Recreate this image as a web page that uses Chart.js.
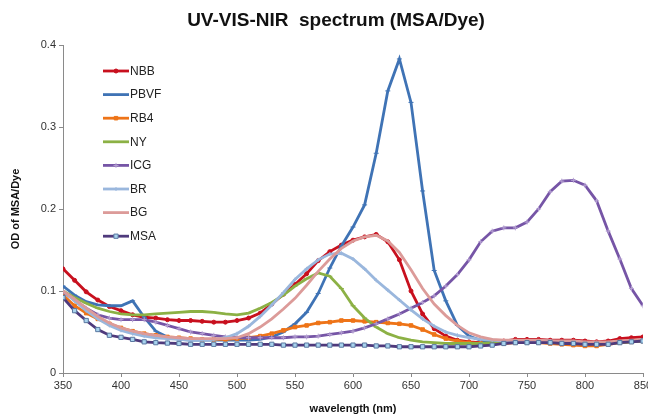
<!DOCTYPE html>
<html>
<head>
<meta charset="utf-8">
<script src="https://cdn.jsdelivr.net/npm/chart.js@4/dist/chart.umd.min.js"></script>
<style>
  html, body { margin: 0; padding: 0; background: #fff; }
</style>
</head>
<body>
<canvas id="spec" width="648" height="420"></canvas>
<script>
// wavelength (nm), one point every 10 nm
var wavelengths = [350, 360, 370, 380, 390, 400, 410, 420, 430, 440,
    450, 460, 470, 480, 490, 500, 510, 520, 530, 540,
    550, 560, 570, 580, 590, 600, 610, 620, 630, 640,
    650, 660, 670, 680, 690, 700, 710, 720, 730, 740,
    750, 760, 770, 780, 790, 800, 810, 820, 830, 840, 850];

var seriesNames = ['NBB', 'PBVF', 'RB4', 'NY', 'ICG', 'BR', 'BG', 'MSA'];

var nbb = [0.127, 0.113, 0.099, 0.089, 0.081, 0.076, 0.071, 0.068, 0.067, 0.065,
    0.064, 0.064, 0.063, 0.062, 0.062, 0.064, 0.067, 0.073, 0.084, 0.096,
    0.108, 0.121, 0.137, 0.148, 0.156, 0.162, 0.166, 0.169, 0.160, 0.138,
    0.100, 0.072, 0.054, 0.045, 0.040, 0.038, 0.037, 0.037, 0.039, 0.041,
    0.041, 0.041, 0.040, 0.040, 0.040, 0.039, 0.038, 0.039, 0.042, 0.043, 0.044];

var pbvf = [0.106, 0.095, 0.087, 0.083, 0.082, 0.082, 0.088, 0.068, 0.051, 0.044,
    0.041, 0.040, 0.040, 0.040, 0.040, 0.040, 0.040, 0.041, 0.044, 0.050,
    0.060, 0.074, 0.097, 0.128, 0.155, 0.178, 0.205, 0.268, 0.344, 0.383,
    0.330, 0.222, 0.125, 0.088, 0.058, 0.045, 0.040, 0.038, 0.038, 0.038,
    0.038, 0.038, 0.038, 0.037, 0.037, 0.036, 0.036, 0.037, 0.038, 0.039, 0.040];

var rb4 = [0.095, 0.082, 0.073, 0.066, 0.060, 0.055, 0.051, 0.048, 0.046, 0.044,
    0.043, 0.042, 0.041, 0.041, 0.041, 0.042, 0.043, 0.045, 0.048, 0.052,
    0.056, 0.058, 0.061, 0.062, 0.064, 0.064, 0.063, 0.062, 0.061, 0.060,
    0.058, 0.053, 0.047, 0.042, 0.039, 0.037, 0.036, 0.036, 0.036, 0.037,
    0.037, 0.037, 0.036, 0.035, 0.034, 0.033, 0.033, 0.035, 0.037, 0.038, 0.039];

var ny = [0.100, 0.092, 0.085, 0.079, 0.075, 0.072, 0.071, 0.071, 0.072, 0.073,
    0.074, 0.075, 0.075, 0.074, 0.072, 0.071, 0.073, 0.079, 0.086, 0.095,
    0.106, 0.115, 0.122, 0.118, 0.103, 0.082, 0.067, 0.056, 0.048, 0.043,
    0.040, 0.038, 0.037, 0.036, 0.036, 0.036, 0.036, 0.037, 0.037, 0.038,
    0.038, 0.038, 0.037, 0.037, 0.036, 0.036, 0.036, 0.036, 0.037, 0.038, 0.039];

var icg = [0.099, 0.089, 0.079, 0.071, 0.067, 0.065, 0.065, 0.065, 0.062, 0.058,
    0.054, 0.050, 0.048, 0.046, 0.044, 0.0435, 0.043, 0.043, 0.043, 0.043,
    0.044, 0.044, 0.045, 0.047, 0.049, 0.051, 0.055, 0.060, 0.066, 0.072,
    0.079, 0.086, 0.094, 0.106, 0.120, 0.138, 0.160, 0.173, 0.177, 0.177,
    0.184, 0.200, 0.221, 0.234, 0.235, 0.229, 0.210, 0.173, 0.139, 0.103, 0.082];

var br = [0.100, 0.088, 0.076, 0.066, 0.058, 0.052, 0.048, 0.045, 0.043, 0.042,
    0.041, 0.040, 0.040, 0.041, 0.043, 0.048, 0.057, 0.069, 0.083, 0.098,
    0.114, 0.127, 0.138, 0.145, 0.146, 0.139, 0.127, 0.113, 0.101, 0.089,
    0.077, 0.066, 0.057, 0.050, 0.046, 0.043, 0.041, 0.040, 0.039, 0.039,
    0.039, 0.039, 0.039, 0.038, 0.038, 0.037, 0.037, 0.037, 0.038, 0.039, 0.040];

var bg = [0.100, 0.090, 0.079, 0.069, 0.061, 0.055, 0.051, 0.048, 0.046, 0.044,
    0.043, 0.042, 0.042, 0.042, 0.042, 0.043, 0.048, 0.056, 0.066, 0.078,
    0.091, 0.107, 0.124, 0.139, 0.152, 0.161, 0.166, 0.168, 0.161, 0.147,
    0.126, 0.103, 0.084, 0.070, 0.058, 0.049, 0.044, 0.041, 0.040, 0.040,
    0.040, 0.040, 0.039, 0.039, 0.039, 0.038, 0.038, 0.038, 0.039, 0.040, 0.041];

var msa = [0.092, 0.076, 0.064, 0.053, 0.046, 0.0435, 0.041, 0.038, 0.037, 0.0365,
    0.036, 0.035, 0.035, 0.035, 0.035, 0.035, 0.035, 0.035, 0.035, 0.034,
    0.034, 0.034, 0.034, 0.034, 0.034, 0.034, 0.034, 0.033, 0.033, 0.032,
    0.032, 0.032, 0.032, 0.032, 0.032, 0.032, 0.033, 0.034, 0.036, 0.037,
    0.037, 0.037, 0.037, 0.036, 0.036, 0.035, 0.035, 0.035, 0.037, 0.038, 0.039];

var xTicks = [350, 400, 450, 500, 550, 600, 650, 700, 750, 800, 850];
var yTicks = [0, 0.1, 0.2, 0.3, 0.4];
var chartTitle = 'UV-VIS-NIR  spectrum (MSA/Dye)';

function pts(vals) {
    return wavelengths.map(function (w, i) { return { x: w, y: vals[i] }; });
}

var styles = [
    { color: '#c8101e', point: 'circle', r: 2, fill: '#c8101e' },
    { color: '#3f73b5', point: 'line', r: 2.5, fill: '#3f73b5' },
    { color: '#ee7418', point: 'rect', r: 2.5, fill: '#ee7418' },
    { color: '#8cb145', point: 'line', r: 2.5, fill: '#8cb145' },
    { color: '#7655a6', point: 'cross', r: 2.5, fill: '#b7a3d4' },
    { color: '#9ab7dd', point: 'cross', r: 2, fill: '#9ab7dd' },
    { color: '#dc9b99', point: false, r: 0, fill: '#dc9b99' },
    { color: '#4f3a7c', point: 'rect', r: 3, fill: '#a9d3ee' }
];

var allValues = [nbb, pbvf, rb4, ny, icg, br, bg, msa];

var datasets = seriesNames.map(function (name, i) {
    var s = styles[i];
    return {
        label: name,
        data: pts(allValues[i]),
        borderColor: s.color,
        backgroundColor: s.fill,
        borderWidth: 2.8,
        pointStyle: s.point,
        pointRadius: s.r,
        pointBorderColor: i === 7 ? '#5a78a0' : (i === 4 ? '#b7a3d4' : s.color),
        pointBorderWidth: 1,
        pointBackgroundColor: s.fill,
        tension: 0,
        order: 7 - i
    };
});

// title and legend drawn by hand so they sit where the original has them
var decorations = {
    id: 'decorations',
    afterDatasetsDraw: function (chart) {
        var ctx = chart.ctx;
        ctx.save();
        ctx.fillStyle = '#111';
        ctx.font = 'bold 19px "Liberation Sans", Arial, sans-serif';
        ctx.textAlign = 'center';
        ctx.textBaseline = 'middle';
        ctx.fillText(chartTitle, 336, 21);

        chart.data.datasets.forEach(function (ds, i) {
            var y = 71 + i * 23.6;
            ctx.strokeStyle = ds.borderColor;
            ctx.lineWidth = ds.borderWidth;
            ctx.beginPath();
            ctx.moveTo(103, y);
            ctx.lineTo(129, y);
            ctx.stroke();
            if (ds.pointRadius > 0) {
                ctx.fillStyle = ds.pointBackgroundColor;
                ctx.strokeStyle = ds.pointBorderColor;
                ctx.lineWidth = 1;
                Chart.helpers.drawPoint(ctx, { pointStyle: ds.pointStyle, radius: ds.pointRadius, borderWidth: 1, rotation: 0 }, 116, y);
            }
            ctx.fillStyle = '#222';
            ctx.font = '12px "Liberation Sans", Arial, sans-serif';
            ctx.textBaseline = 'middle';
            ctx.textAlign = 'left';
            ctx.fillText(ds.label, 130, y + 0.5);
        });
        ctx.restore();
    }
};

var ctx = document.getElementById('spec').getContext('2d');
var chart = new Chart(ctx, {
    type: 'line',
    data: { datasets: datasets },
    options: {
        responsive: false,
        animation: false,
        devicePixelRatio: 1,
        layout: { padding: { left: 0, right: 5, top: 45, bottom: 0 } },
        plugins: {
            legend: { display: false },
            tooltip: { enabled: false },
            title: { display: false }
        },
        scales: {
            x: {
                type: 'linear',
                min: 350,
                max: 850,
                afterBuildTicks: function (s) { s.ticks = xTicks.map(function (v) { return { value: v }; }); },
                afterFit: function (s) { s.height = 47; s.paddingRight = 0; s.paddingLeft = 0; },
                ticks: {
                    color: '#333',
                    font: { family: '"Liberation Sans", Arial, sans-serif', size: 11 },
                    padding: 2,
                    maxRotation: 0
                },
                grid: { drawOnChartArea: false, drawTicks: true, tickLength: 4, color: '#8a8a8a' },
                border: { color: '#8a8a8a', width: 1 },
                title: {
                    display: true,
                    text: 'wavelength (nm)',
                    color: '#111',
                    font: { family: '"Liberation Sans", Arial, sans-serif', size: 11, weight: 'bold' },
                    padding: { top: 0, bottom: 4 }
                }
            },
            y: {
                type: 'linear',
                min: 0,
                max: 0.4,
                afterBuildTicks: function (s) { s.ticks = yTicks.map(function (v) { return { value: v }; }); },
                afterFit: function (s) { s.width = 63; s.paddingTop = 0; },
                ticks: {
                    color: '#333',
                    font: { family: '"Liberation Sans", Arial, sans-serif', size: 11 },
                    padding: 3,
                    callback: function (v) { return String(Math.round(v * 10) / 10); }
                },
                grid: { drawOnChartArea: false, drawTicks: true, tickLength: 4, color: '#8a8a8a' },
                border: { color: '#8a8a8a', width: 1 },
                title: {
                    display: true,
                    text: 'OD of MSA/Dye',
                    color: '#111',
                    font: { family: '"Liberation Sans", Arial, sans-serif', size: 11, weight: 'bold' },
                    padding: { top: 9, bottom: 0 }
                }
            }
        }
    },
    plugins: [decorations]
});
</script>
</body>
</html>
